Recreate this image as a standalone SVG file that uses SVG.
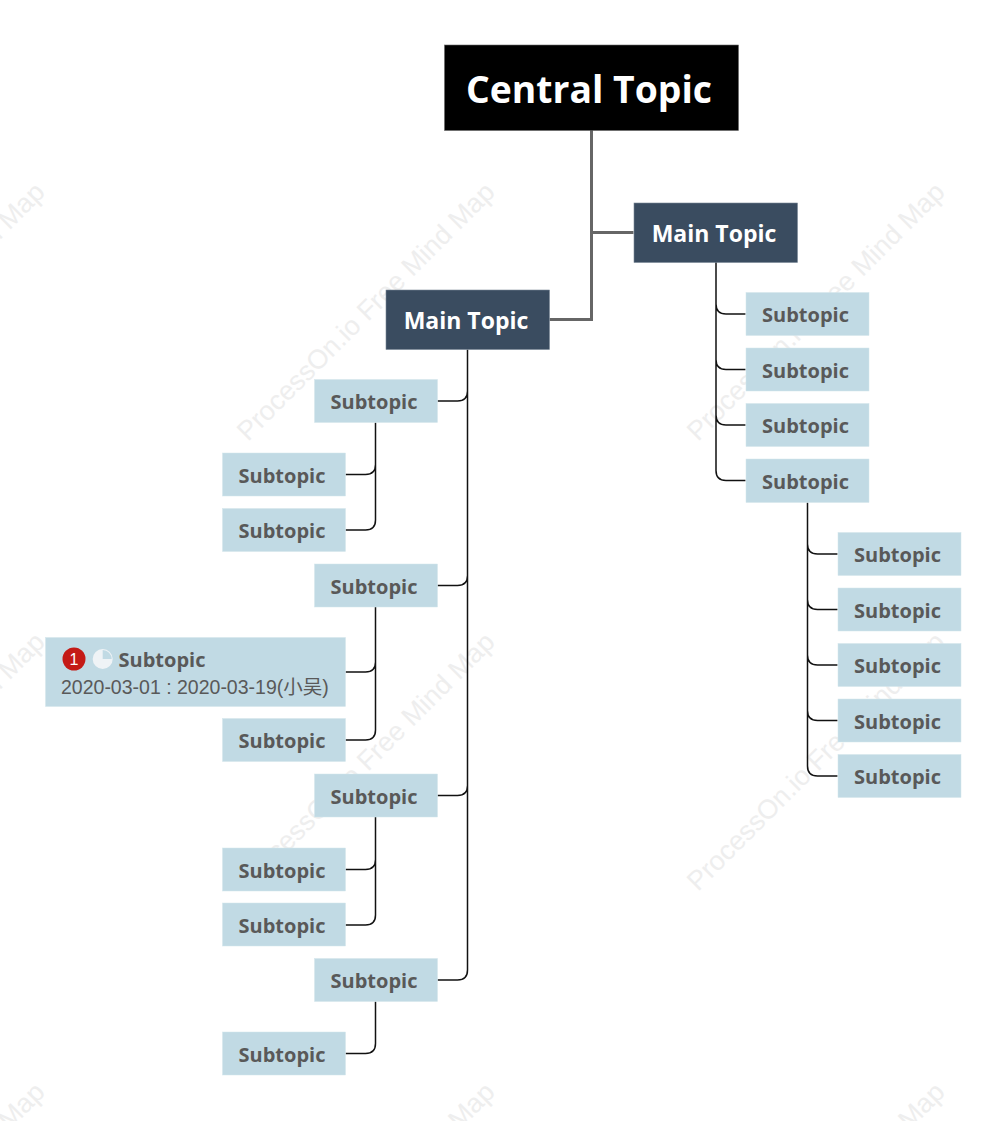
<svg xmlns="http://www.w3.org/2000/svg" width="1006" height="1136" viewBox="0 0 1006 1136">
<style>
.wm{font:27px "Liberation Sans",Arial,sans-serif;fill:#eee}
.sub rect{fill:#c1dae4;stroke:#d3e5ec;stroke-width:.5}
.sub text{font:700 20px "Open Sans","Noto Sans",sans-serif;fill:#595959;text-anchor:middle}
.main rect{fill:#3a4c60;stroke:#7a8796;stroke-width:.6}
.main text{font:700 23px "Open Sans","Noto Sans",sans-serif;fill:#fff;text-anchor:middle}
.c1{fill:none;stroke:#666;stroke-width:3}
.c2{fill:none;stroke:#111;stroke-width:1.5}
</style>
<defs>
<clipPath id="clip"><rect x="0" y="0" width="1006" height="1121"/></clipPath>
<text id="w" class="wm">ProcessOn.io Free Mind Map</text>
</defs>
<rect width="1006" height="1136" fill="#fff"/>
<g id="watermarks" clip-path="url(#clip)">
<use href="#w" transform="translate(-202 442) rotate(-45)"/>
<use href="#w" transform="translate(248 442) rotate(-45)"/>
<use href="#w" transform="translate(698 442) rotate(-45)"/>
<use href="#w" transform="translate(-202 892) rotate(-45)"/>
<use href="#w" transform="translate(248 892) rotate(-45)"/>
<use href="#w" transform="translate(698 892) rotate(-45)"/>
<use href="#w" transform="translate(-202 1342) rotate(-45)"/>
<use href="#w" transform="translate(248 1342) rotate(-45)"/>
<use href="#w" transform="translate(698 1342) rotate(-45)"/>
</g>
<g id="connectors">
<path class="c1" d="M591.5 130V319.5H549.5M591.5 232.5H633.5"/>
<path class="c2" d="M716 262V304Q716 314 726 314H745.5M716 262V359.5Q716 369.5 726 369.5H745.5M716 262V415Q716 425 726 425H745.5M716 262V470.500Q716 480.500 726 480.500H745.500"/>
<path class="c2" d="M807.500 502.500V544Q807.500 554 817.500 554H837.500M807.500 502.500V599.500Q807.500 609.500 817.500 609.500H837.500M807.500 502.500V655Q807.500 665 817.500 665H837.500M807.500 502.500V710.500Q807.500 720.500 817.500 720.500H837.500M807.500 502.500V766Q807.500 776 817.500 776H837.500"/>
<path class="c2" d="M467.500 349.500V391Q467.500 401 457.500 401H437.500M467.500 349.500V575.500Q467.500 585.500 457.500 585.500H437.500M467.500 349.500V785.500Q467.500 795.500 457.500 795.500H437.500M467.500 349.500V970Q467.500 980 457.500 980H437.500"/>
<path class="c2" d="M375.500 422.500V464.500Q375.500 474.500 365.500 474.500H345.500M375.500 422.500V520Q375.500 530 365.500 530H345.500"/>
<path class="c2" d="M375.500 607V662Q375.500 672 365.500 672H345.500M375.500 607V730Q375.500 740 365.500 740H345.500"/>
<path class="c2" d="M375.500 817V859.500Q375.500 869.500 365.500 869.500H345.500M375.500 817V915Q375.500 925 365.500 925H345.500"/>
<path class="c2" d="M375.500 1001.500V1043.500Q375.500 1053.500 365.500 1053.500H345.500"/>
</g>
<g id="central"><rect x="444.500" y="45" width="294" height="85.500" fill="#000" stroke="#666" stroke-width=".6"/><text x="589" y="102.500" font-family="Open Sans,Noto Sans,sans-serif" font-weight="700" font-size="37.300" fill="#fff" text-anchor="middle">Central Topic</text></g>
<g id="main-right" class="main"><rect x="634" y="203" width="163.500" height="59.500"/><text x="714" y="241.700">Main Topic</text></g>
<g id="main-left" class="main"><rect x="386" y="290" width="163.500" height="59.500"/><text x="466" y="328.700">Main Topic</text></g>
<g id="r1" class="sub"><rect x="746" y="292.500" width="123" height="43"/><text x="805.500" y="322">Subtopic</text></g>
<g id="r2" class="sub"><rect x="746" y="348" width="123" height="43"/><text x="805.500" y="377.500">Subtopic</text></g>
<g id="r3" class="sub"><rect x="746" y="403.500" width="123" height="43"/><text x="805.500" y="433">Subtopic</text></g>
<g id="r4" class="sub"><rect x="746" y="459" width="123" height="43.500"/><text x="805.500" y="488.500">Subtopic</text></g>
<g id="r4-1" class="sub"><rect x="838" y="532.500" width="123" height="43"/><text x="897.500" y="562">Subtopic</text></g>
<g id="r4-2" class="sub"><rect x="838" y="588" width="123" height="43"/><text x="897.500" y="617.500">Subtopic</text></g>
<g id="r4-3" class="sub"><rect x="838" y="643.500" width="123" height="43"/><text x="897.500" y="673">Subtopic</text></g>
<g id="r4-4" class="sub"><rect x="838" y="699" width="123" height="43"/><text x="897.500" y="728.500">Subtopic</text></g>
<g id="r4-5" class="sub"><rect x="838" y="754.500" width="123" height="43"/><text x="897.500" y="784">Subtopic</text></g>
<g id="l1" class="sub"><rect x="314.500" y="379.500" width="123" height="43"/><text x="374" y="409">Subtopic</text></g>
<g id="l1-1" class="sub"><rect x="222.500" y="453" width="123" height="43"/><text x="282" y="482.500">Subtopic</text></g>
<g id="l1-2" class="sub"><rect x="222.500" y="508.500" width="123" height="43"/><text x="282" y="538">Subtopic</text></g>
<g id="l2" class="sub"><rect x="314.500" y="564" width="123" height="43"/><text x="374" y="593.500">Subtopic</text></g>
<g id="l2-1" class="sub"><rect x="45.500" y="637.500" width="300" height="69"/>
<circle cx="74" cy="659" r="11.500" fill="#c41a16"/><text x="74" y="664.500" style="font:16px 'Liberation Sans',sans-serif;fill:#fff">1</text>
<circle cx="102.700" cy="659" r="10" fill="#eff3f6"/><path d="M102.700 659V650A9 9 0 0 1 111.700 659Z" fill="#c1dae4"/>
<text x="162" y="667">Subtopic</text>
<text x="61" y="693.500" style="font:19.500px 'Liberation Sans','Noto Sans CJK SC',sans-serif;text-anchor:start;fill:#595959">2020-03-01 : 2020-03-19(小吴)</text></g>
<g id="l2-2" class="sub"><rect x="222.500" y="718.500" width="123" height="43"/><text x="282" y="748">Subtopic</text></g>
<g id="l3" class="sub"><rect x="314.500" y="774" width="123" height="43"/><text x="374" y="803.500">Subtopic</text></g>
<g id="l3-1" class="sub"><rect x="222.500" y="848" width="123" height="43"/><text x="282" y="877.500">Subtopic</text></g>
<g id="l3-2" class="sub"><rect x="222.500" y="903" width="123" height="43"/><text x="282" y="932.500">Subtopic</text></g>
<g id="l4" class="sub"><rect x="314.500" y="958.500" width="123" height="43"/><text x="374" y="988">Subtopic</text></g>
<g id="l4-1" class="sub"><rect x="222.500" y="1032" width="123" height="43"/><text x="282" y="1061.500">Subtopic</text></g>
</svg>
